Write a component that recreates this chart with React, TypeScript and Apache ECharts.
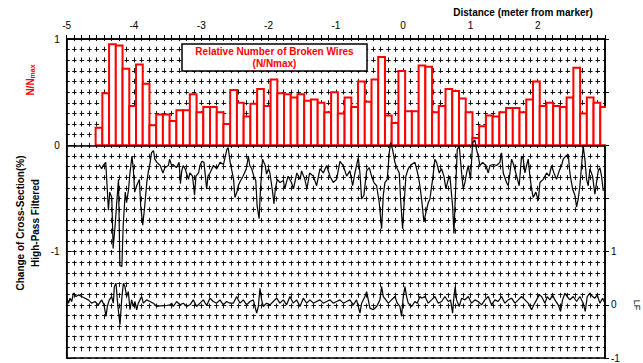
import React, { useEffect, useRef } from 'react';
import * as echarts from 'echarts';

const FONT = 'Arial, "Liberation Sans", sans-serif';

// Distance axis (meter from marker)
const distanceMin = -5;
const distanceMax = 3;
// Histogram bins of relative number of broken wires (N/Nmax)
const binStart = -4.57;
const binWidth = 0.1;
const brokenWires = [
  0.165, 0.49, 0.95, 0.94, 0.72, 0.37, 0.76, 0.58, 0.19, 0.29,
  0.29, 0.23, 0.33, 0.33, 0.48, 0.31, 0.36, 0.36, 0.31, 0.20,
  0.52, 0.40, 0.27, 0.39, 0.53, 0.37, 0.62, 0.49, 0.48, 0.45,
  0.48, 0.42, 0.43, 0.40, 0.31, 0.50, 0.30, 0.45, 0.36, 0.60,
  0.41, 0.62, 0.83, 0.28, 0.21, 0.70, 0.32, 0.32, 0.75, 0.74,
  0.31, 0.37, 0.53, 0.51, 0.44, 0.31, 0.07, 0.18, 0.28, 0.27,
  0.31, 0.35, 0.35, 0.31, 0.43, 0.60, 0.37, 0.40, 0.37, 0.36,
  0.45, 0.73, 0.30, 0.45, 0.40, 0.36,
];

// High-pass filtered change of cross-section (%)
const hpX = [
  -4.52, -4.48, -4.46, -4.42, -4.40, -4.38, -4.36, -4.33, -4.31, -4.28, -4.26, -4.23, -4.21, -4.18, -4.16, -4.13,
  -4.11, -4.08, -4.06, -4.03, -4.01, -3.99, -3.96, -3.92, -3.90, -3.87, -3.84, -3.81, -3.79, -3.76, -3.74, -3.71,
  -3.69, -3.66, -3.61, -3.57, -3.54, -3.49, -3.47, -3.44, -3.42, -3.37, -3.33, -3.31, -3.29, -3.27, -3.24, -3.19,
  -3.17, -3.13, -3.10, -3.08, -3.04, -3.02, -2.99, -2.96, -2.92, -2.90, -2.87, -2.82, -2.77, -2.72, -2.67, -2.62,
  -2.60, -2.57, -2.52, -2.50, -2.47, -2.45, -2.43, -2.38, -2.33, -2.30, -2.28, -2.25, -2.22, -2.19, -2.17, -2.14,
  -2.12, -2.09, -2.05, -2.03, -2.00, -1.98, -1.94, -1.92, -1.90, -1.87, -1.83, -1.78, -1.76, -1.71, -1.66, -1.63,
  -1.58, -1.53, -1.51, -1.46, -1.43, -1.39,
  -1.335, -1.286, -1.236, -1.187, -1.137, -1.088, -1.038, -0.989, -0.939, -0.890, -0.840, -0.791, -0.751, -0.716,
  -0.667, -0.642, -0.617, -0.583, -0.543, -0.503, -0.469, -0.434, -0.394, -0.355, -0.320, -0.295, -0.271, -0.236,
  -0.206, -0.186, -0.157, -0.122, -0.087, -0.058, -0.038, -0.008, 0.012, 0.041, 0.076, 0.126, 0.175, 0.200, 0.225,
  0.249, 0.274, 0.309, 0.339, 0.373, 0.398, 0.438, 0.472, 0.497, 0.537, 0.571, 0.606, 0.636, 0.670, 0.695, 0.735,
  0.755, 0.774, 0.804, 0.834, 0.869, 0.893, 0.918, 0.943, 0.968, 1.002, 1.032, 1.067, 1.091, 1.116, 1.141, 1.181,
  1.230, 1.265, 1.290, 1.339, 1.389, 1.438, 1.463, 1.488, 1.537, 1.562, 1.587, 1.612, 1.646, 1.686, 1.725, 1.760,
  1.785, 1.810, 1.834, 1.859, 1.884, 1.909, 1.933, 1.973, 2.008, 2.033, 2.082, 2.132, 2.171, 2.206, 2.241, 2.280,
  2.320, 2.354, 2.379, 2.419, 2.454, 2.478, 2.518, 2.553, 2.577, 2.602, 2.627, 2.652, 2.676, 2.701, 2.726, 2.751,
  2.775, 2.815, 2.850, 2.874, 2.899, 2.924, 2.949, 2.974,
];
const hpY = [
  -0.18, -0.22, -0.19, -0.16, -0.38, -0.61, -0.44, -0.49, -0.97, -0.75, -0.57, -0.32, -1.13, -1.14, -0.75, -0.44,
  -0.54, -0.41, -0.26, -0.10, -0.22, -0.44, -0.38, -0.32, -0.57, -0.75, -0.57, -0.35, -0.26, -0.16, -0.07, -0.05,
  -0.13, -0.16, -0.19, -0.26, -0.21, -0.19, -0.13, -0.19, -0.18, -0.21, -0.16, -0.36, -0.24, -0.19, -0.22, -0.32,
  -0.26, -0.29, -0.47, -0.29, -0.26, -0.19, -0.15, -0.16, -0.41, -0.29, -0.26, -0.19, -0.22, -0.16, -0.18, -0.04,
  -0.02, -0.16, -0.32, -0.49, -0.44, -0.38, -0.35, -0.29, -0.22, -0.10, -0.19, -0.22, -0.29, -0.33, -0.57, -0.69,
  -0.41, -0.13, -0.19, -0.27, -0.22, -0.26, -0.44, -0.55, -0.41, -0.32, -0.35, -0.33, -0.41, -0.29, -0.35, -0.41,
  -0.26, -0.32, -0.24, -0.32, -0.41, -0.26,
  -0.29, -0.38, -0.22, -0.26, -0.19, -0.29, -0.35, -0.32, -0.15, -0.19, -0.29, -0.24, -0.38, -0.26,
  -0.115, -0.26, -0.505, -0.47, -0.24, -0.21, -0.29, -0.35, -0.38, -0.54, -0.785, -0.47, -0.35, -0.32,
  -0.07, 0.025, -0.04, -0.16, -0.22, -0.26, -0.505, -0.785, -0.57, -0.29, -0.22, -0.18, -0.16, -0.22, -0.29,
  -0.38, -0.505, -0.72, -0.63, -0.54, -0.505, -0.32, -0.13, -0.16, -0.26, -0.22, -0.29, -0.41, -0.32, -0.29, -0.57,
  -0.83, -0.505, -0.04, -0.006, -0.26, -0.41, -0.35, -0.26, -0.19, -0.32, 0.025, 0.05, -0.04, -0.10, -0.19, -0.16,
  -0.19, -0.26, -0.19, -0.18, -0.19, -0.16, -0.07, -0.26, -0.35, -0.38, -0.26, -0.13, -0.19, -0.29, -0.38, -0.10,
  -0.13, -0.26, -0.19, -0.13, -0.29, -0.41, -0.49, -0.44, -0.52, -0.35, -0.32, -0.26, -0.29, -0.19, -0.26, -0.32,
  -0.24, -0.19, -0.13, -0.10, -0.084, -0.26, -0.41, -0.47, -0.58, -0.505, -0.38, -0.19, -0.006, -0.13, -0.32, -0.38,
  -0.22, -0.29, -0.46, -0.35, -0.24, -0.21, -0.29, -0.43,
];

// LF signal (right axis)
const lfX = [
  -5.0, -4.975, -4.95, -4.926, -4.901, -4.862, -4.827, -4.778, -4.728, -4.679, -4.629, -4.58, -4.53, -4.48, -4.446, -4.416,
  -4.396, -4.367, -4.332, -4.307, -4.292, -4.267, -4.248, -4.228, -4.208, -4.183, -4.158, -4.134, -4.109, -4.084, -4.059, -4.035,
  -4.01, -3.985, -3.96, -3.936, -3.911, -3.886, -3.861, -3.812, -3.762, -3.713, -3.663, -3.614, -3.515, -3.465, -3.44, -3.415,
  -3.366, -3.316, -3.267, -3.217, -3.168, -3.118, -3.069, -3.019, -2.97, -2.92, -2.871, -2.821, -2.772, -2.722, -2.673, -2.623,
  -2.574, -2.524, -2.474, -2.425, -2.375, -2.326, -2.276, -2.227, -2.177, -2.152, -2.128, -2.103, -2.078, -2.029, -1.979, -1.93,
  -1.88, -1.831, -1.781, -1.732, -1.682, -1.633, -1.583, -1.533, -1.484, -1.434, -1.385,
  -1.335, -1.286, -1.236, -1.187, -1.137, -1.088, -1.038, -0.989, -0.939, -0.89, -0.84, -0.791, -0.741, -0.692, -0.642, -0.617,
  -0.568, -0.543, -0.518, -0.493, -0.444, -0.394, -0.345, -0.32, -0.295, -0.256, -0.221, -0.172, -0.122, -0.087, -0.048, -0.023,
  0.002, 0.027, 0.051, 0.076, 0.126, 0.175, 0.21, 0.249, 0.274, 0.324, 0.373, 0.423, 0.472, 0.522, 0.571, 0.621,
  0.67, 0.705, 0.735, 0.755, 0.774, 0.794, 0.834, 0.869, 0.918, 0.968, 1.017, 1.067, 1.116, 1.166, 1.215, 1.265,
  1.314, 1.364, 1.413, 1.463, 1.512, 1.562, 1.612, 1.661, 1.711, 1.76, 1.81, 1.859, 1.909, 1.943, 1.983, 2.023,
  2.057, 2.107, 2.141, 2.181, 2.221, 2.255, 2.305, 2.34, 2.369, 2.404, 2.439, 2.478, 2.528, 2.577, 2.627, 2.676,
  2.706, 2.736, 2.775, 2.815, 2.85, 2.884, 2.924, 2.964, 2.999,
];
const lfY = [
  0.156, 0.031, 0.125, 0.062, 0.218, 0.156, 0.187, 0.156, 0.125, 0.093, 0.031, 0.062, 0.0, 0.093, 0.0, -0.218,
  -0.031, 0.093, 0.156, 0.031, 0.343, 0.405, 0.093, -0.156, -0.374, 0.093, 0.405, 0.343, 0.156, 0.249, -0.093, 0.093,
  -0.031, 0.062, -0.093, 0.031, 0.093, 0.156, 0.031, 0.093, 0.062, 0.031, -0.031, -0.019, -0.013, 0.0, 0.031, -0.031,
  0.062, 0.0, 0.031, -0.031, 0.0, 0.093, -0.031, 0.031, 0.093, -0.013, 0.125, 0.062, 0.031, 0.093, 0.0, 0.062,
  0.031, 0.031, 0.156, 0.031, 0.093, 0.0, 0.062, 0.093, -0.156, -0.031, 0.311, 0.093, -0.031, 0.031, 0.0, 0.062,
  0.125, 0.031, 0.093, 0.0, 0.156, 0.031, 0.093, -0.031, 0.125, 0.031, 0.093,
  0.031, 0.062, 0.093, 0.031, 0.062, 0.093, 0.031, 0.062, 0.093, 0.031, 0.062, 0.093, 0.0, 0.093, -0.156, 0.031,
  0.156, 0.249, 0.093, -0.062, -0.093, -0.031, 0.093, 0.343, 0.156, 0.093, 0.031, 0.093, 0.156, 0.031, -0.031, -0.218,
  0.156, 0.343, 0.156, 0.031, -0.031, 0.062, 0.031, 0.156, 0.125, 0.156, 0.031, 0.093, 0.156, 0.031, 0.062, 0.156,
  0.062, 0.093, -0.156, 0.156, 0.343, 0.093, -0.031, 0.125, 0.093, 0.156, 0.031, 0.093, 0.062, 0.0, 0.093, 0.156,
  0.0, 0.093, 0.062, 0.156, 0.031, 0.093, 0.125, 0.031, 0.093, 0.156, 0.093, 0.031, -0.093, 0.0, 0.093, 0.187,
  0.156, 0.031, 0.156, 0.093, 0.187, 0.093, 0.0, -0.125, 0.093, 0.218, 0.156, 0.093, 0.156, 0.062, 0.156, 0.031,
  -0.125, 0.156, 0.218, 0.156, 0.125, 0.187, 0.031, 0.125, 0.031,
];

export default function App() {
  const ref = useRef<HTMLDivElement>(null);

  useEffect(() => {
    const chart = echarts.init(ref.current!, null, { renderer: 'svg' });

    const barData = brokenWires.map((v, i) => [binStart + i * binWidth, binStart + (i + 1) * binWidth, v]);
    const hpData = hpX.map((x, i) => [x, hpY[i]]);
    const lfData = lfX.map((x, i) => [x, lfY[i]]);

    const gridLineV = { color: '#111', width: 1, type: [5, 5.7] as any, dashOffset: 2.5 };
    const gridLineH = { color: '#111', width: 1, type: [4.5, 2.976] as any, dashOffset: 2.25 };

    const option: any = {
      animation: false,
      backgroundColor: '#fff',
      textStyle: { fontFamily: FONT },
      grid: {
        left: 66.7, right: 38, top: 39, bottom: 3,
        show: true, borderColor: '#000', borderWidth: 1.5, backgroundColor: 'transparent',
      },
      xAxis: {
        type: 'value', position: 'top', min: distanceMin, max: distanceMax, interval: 1,
        axisLine: { show: true, onZero: false, lineStyle: { color: '#000', width: 1.5 } },
        axisTick: { show: true, inside: false, length: 4, lineStyle: { color: '#000' } },
        minorTick: { show: true, splitNumber: 9, length: 4, lineStyle: { color: '#000' } },
        axisLabel: {
          fontSize: 10, color: '#000', fontFamily: FONT, margin: 9,
          formatter: (v: number) => (v >= distanceMax ? '' : String(v)),
        },
        splitLine: { show: true, lineStyle: gridLineV },
        minorSplitLine: { show: true, lineStyle: gridLineV },
      },
      yAxis: [
        {
          type: 'value', position: 'left', min: -2, max: 1, interval: 1,
          axisLine: { show: true, onZero: false, lineStyle: { color: '#000', width: 1.5 } },
          axisTick: { show: true, inside: true, length: 5, lineStyle: { color: '#000' } },
          minorTick: { show: true, splitNumber: 10, length: 3, lineStyle: { color: '#000' } },
          axisLabel: {
            fontSize: 10, color: '#000', fontFamily: FONT, margin: 7,
            formatter: (v: number) => (v <= -2 ? '' : String(v)),
          },
          splitLine: { show: true, lineStyle: gridLineH },
          minorSplitLine: { show: true, lineStyle: gridLineH },
        },
        {
          type: 'value', position: 'right', min: -1, max: 5, interval: 1,
          axisLine: { show: true, onZero: false, lineStyle: { color: '#000', width: 1.5 } },
          axisTick: { show: true, inside: false, length: 4, lineStyle: { color: '#000' } },
          axisLabel: {
            fontSize: 10, color: '#000', fontFamily: FONT, margin: 6,
            formatter: (v: number) => (v <= 1 ? String(v) : ''),
          },
          splitLine: { show: false },
        },
      ],
      series: [
        {
          type: 'custom',
          xAxisIndex: 0,
          yAxisIndex: 0,
          clip: true,
          z: 3,
          data: barData,
          renderItem: (params: any, api: any) => {
            const p0 = api.coord([api.value(0), 0]);
            const p1 = api.coord([api.value(1), api.value(2)]);
            return {
              type: 'rect',
              shape: { x: p0[0], y: p1[1], width: p1[0] - p0[0], height: p0[1] - p1[1] },
              style: { fill: '#fff', stroke: '#ff0000', lineWidth: 2 },
            };
          },
        },
        {
          type: 'line',
          xAxisIndex: 0,
          yAxisIndex: 0,
          data: hpData,
          symbol: 'none',
          z: 4,
          lineStyle: { color: '#000', width: 1.2 },
          markLine: {
            silent: true,
            symbol: 'none',
            label: { show: false },
            lineStyle: { color: '#000', type: 'solid', width: 1.5 },
            data: [{ yAxis: 0 }],
          },
        },
        {
          type: 'line',
          xAxisIndex: 0,
          yAxisIndex: 1,
          data: lfData,
          symbol: 'none',
          z: 4,
          lineStyle: { color: '#000', width: 1.2 },
        },
      ],
      graphic: [
        {
          type: 'text', x: 523, y: 12, z: 20,
          style: {
            text: 'Distance (meter from marker)', fontSize: 10, fontWeight: 'bold',
            fontFamily: FONT, fill: '#000', align: 'center', verticalAlign: 'middle',
          },
        },
        {
          type: 'rect', z: 20,
          shape: { x: 182, y: 44, width: 185, height: 27 },
          style: { fill: '#fff', stroke: '#000', lineWidth: 1.5 },
        },
        {
          type: 'text', x: 274.5, y: 57.5, z: 21,
          style: {
            text: 'Relative Number of Broken Wires\n(N/Nmax)', fontSize: 10, fontWeight: 'bold',
            lineHeight: 12, fontFamily: FONT, fill: '#ff0000', align: 'center', verticalAlign: 'middle',
          },
        },
        {
          type: 'text', x: 30, y: 80, rotation: Math.PI / 2, z: 20,
          style: {
            text: '{a|N/N}{b|max}', align: 'center', verticalAlign: 'middle',
            rich: {
              a: { fontSize: 10, fontWeight: 'bold', fill: '#ff0000', fontFamily: FONT },
              b: { fontSize: 7, fontWeight: 'bold', fill: '#ff0000', fontFamily: FONT, padding: [4, 0, 0, 0] },
            },
          },
        },
        {
          type: 'text', x: 27.5, y: 223, rotation: Math.PI / 2, z: 20,
          style: {
            text: 'Change of Cross-Section(%)\nHigh-Pass Filtered', fontSize: 10, fontWeight: 'bold',
            lineHeight: 15, fontFamily: FONT, fill: '#000', align: 'center', verticalAlign: 'middle',
          },
        },
        {
          type: 'text', x: 637, y: 305, rotation: -Math.PI / 2, z: 20,
          style: {
            text: 'LF', fontSize: 9, fontFamily: FONT, fill: '#000', align: 'center', verticalAlign: 'middle',
          },
        },
      ],
    };

    chart.setOption(option);
    return () => chart.dispose();
  }, []);

  return <div ref={ref} style={{ position: 'absolute', left: 0, top: 0, width: 643, height: 363 }} />;
}
